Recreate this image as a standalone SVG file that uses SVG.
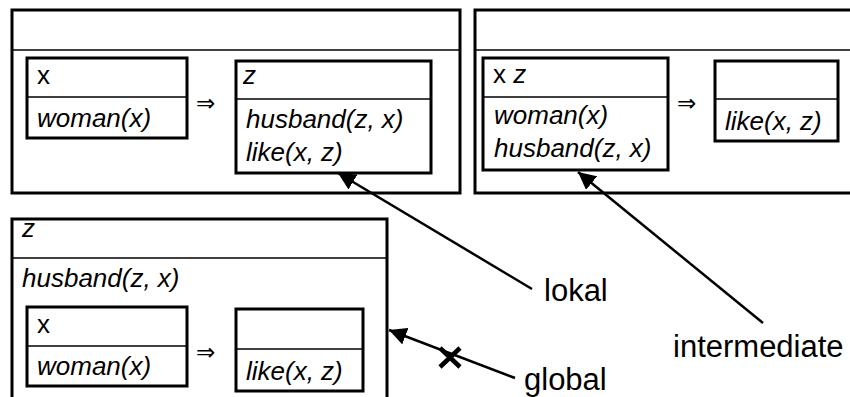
<svg xmlns="http://www.w3.org/2000/svg" width="850" height="397" viewBox="0 0 850 397">
<style>
.box{fill:#fff;stroke:#000;stroke-width:3}
.div{stroke:#000;stroke-width:1.3}
.t{font-family:"Liberation Sans",Arial,sans-serif;font-size:26px;fill:#000}
.i{font-style:italic}
.imp{font-family:"DejaVu Sans",sans-serif;font-size:23px;fill:#000}
.lbl{font-family:"Liberation Sans",Arial,sans-serif;font-size:31px;fill:#000}
.conn{stroke:#000;stroke-width:2.5;fill:none}
</style>
<defs>
<marker id="ah" viewBox="0 0 10 10" refX="10" refY="5" markerWidth="7" markerHeight="7" markerUnits="strokeWidth" orient="auto">
<path d="M0,0 L10,5 L0,10 z" fill="#000"/>
</marker>
</defs>
<rect width="850" height="397" fill="#fff"/>

<g id="drs1">
<rect class="box" x="12" y="10" width="448" height="183"/>
<line class="div" x1="12" y1="50" x2="460" y2="50"/>
<g id="drs1a">
<rect class="box" x="27" y="58" width="160" height="80"/>
<line class="div" x1="27" y1="97" x2="187" y2="97"/>
<text class="t" x="37" y="84">x</text>
<text class="t i" x="37" y="127">woman(x)</text>
</g>
<text class="imp" x="196" y="111">⇒</text>
<g id="drs1b">
<rect class="box" x="236" y="61" width="195" height="112"/>
<line class="div" x1="236" y1="99" x2="431" y2="99"/>
<text class="t i" x="243" y="84">z</text>
<text class="t i" x="246" y="128">husband(z, x)</text>
<text class="t i" x="246" y="161">like(x, z)</text>
</g>
</g>

<g id="drs2">
<rect class="box" x="475" y="10" width="380" height="183"/>
<line class="div" x1="475" y1="50" x2="852" y2="50"/>
<g id="drs2a">
<rect class="box" x="483" y="58" width="185" height="112"/>
<line class="div" x1="483" y1="97" x2="668" y2="97"/>
<text class="t" x="493" y="83">x <tspan class="i">z</tspan></text>
<text class="t i" x="494" y="124">woman(x)</text>
<text class="t i" x="494" y="157">husband(z, x)</text>
</g>
<text class="imp" x="677" y="111">⇒</text>
<g id="drs2b">
<rect class="box" x="715" y="61" width="123" height="80"/>
<line class="div" x1="715" y1="99" x2="838" y2="99"/>
<text class="t i" x="725" y="130">like(x, z)</text>
</g>
</g>

<g id="drs3">
<rect class="box" x="12" y="219" width="375" height="190"/>
<line class="div" x1="12" y1="258" x2="387" y2="258"/>
<text class="t i" x="22" y="237">z</text>
<text class="t i" x="22" y="287">husband(z, x)</text>
<g id="drs3a">
<rect class="box" x="27" y="307" width="160" height="79"/>
<line class="div" x1="27" y1="346" x2="187" y2="346"/>
<text class="t" x="37" y="333">x</text>
<text class="t i" x="37" y="375">woman(x)</text>
</g>
<text class="imp" x="196" y="360">⇒</text>
<g id="drs3b">
<rect class="box" x="236" y="309" width="127" height="82"/>
<line class="div" x1="236" y1="349" x2="363" y2="349"/>
<text class="t i" x="246" y="380">like(x, z)</text>
</g>
</g>

<g id="connectors">
<line class="conn" x1="532" y1="289" x2="338" y2="173" marker-end="url(#ah)"/>
<line class="conn" x1="763" y1="323" x2="578" y2="172" marker-end="url(#ah)"/>
<line class="conn" x1="515" y1="378" x2="389" y2="330" marker-end="url(#ah)"/>
<path d="M440,348 L460,367 M440,367 L460,348" stroke="#000" stroke-width="4.5" fill="none"/>
</g>

<g id="labels">
<text class="lbl" x="544" y="301">lokal</text>
<text class="lbl" x="673" y="357">intermediate</text>
<text class="lbl" x="524" y="390">global</text>
</g>
</svg>
